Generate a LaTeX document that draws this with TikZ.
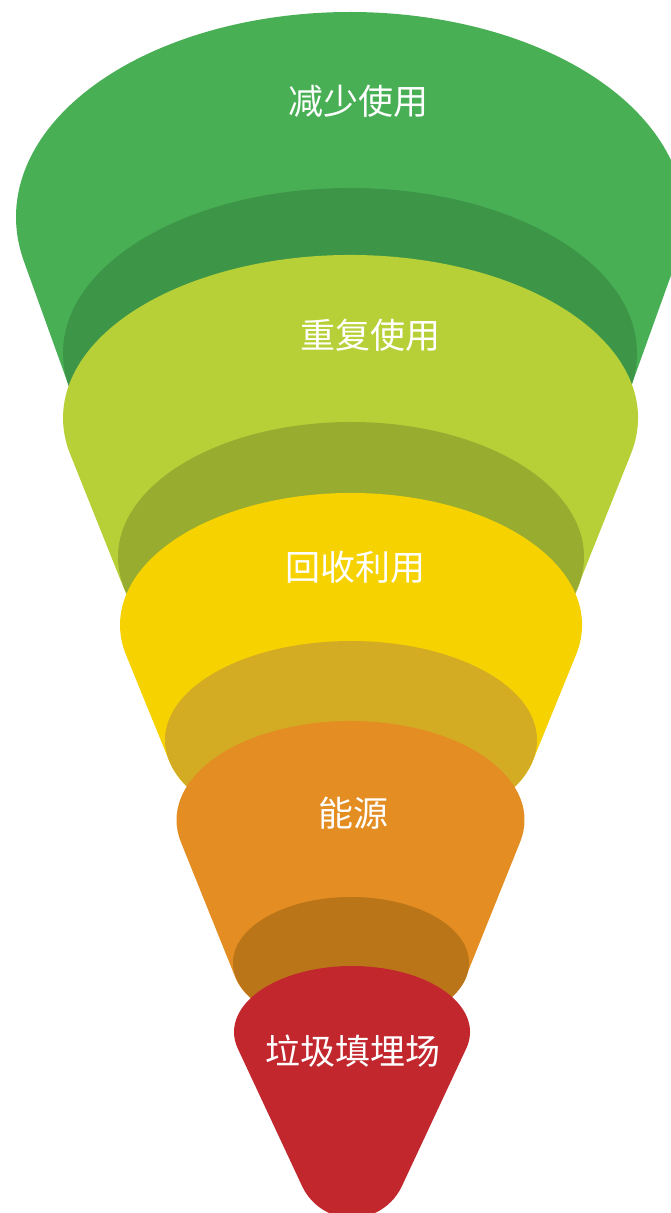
\documentclass[tikz,border=0pt]{standalone}
\usepackage{fontspec}
\newfontfamily\cjk{Noto Sans CJK SC}
\definecolor{gA}{HTML}{48AF55}
\definecolor{gAd}{HTML}{3D9648}
\definecolor{gB}{HTML}{B8D038}
\definecolor{gBd}{HTML}{98AC30}
\definecolor{gC}{HTML}{F6D300}
\definecolor{gCd}{HTML}{D4AC24}
\definecolor{gD}{HTML}{E38D22}
\definecolor{gDd}{HTML}{BB7519}
\definecolor{gE}{HTML}{C1272D}
\tikzset{lbl/.style={text=white,font=\cjk\fontsize{35}{40}\selectfont,inner sep=0pt}}
% #1 cx, #2 cy top (px, downwards), #3 a1, #4 b1, #5 cy bottom, #6 a2, #7 b2, #8 colour
\newcommand{\funnelseg}[8]{%
  \pgfmathsetmacro{\fsdy}{(#5-#2)/100}%
  \pgfmathsetmacro{\fsm}{0.4}%
  \pgfmathsetmacro{\fsm}{(sqrt((#3/100)^2+(\fsm*#4/100)^2)-sqrt((#6/100)^2+(\fsm*#7/100)^2))/\fsdy}%
  \pgfmathsetmacro{\fsm}{(sqrt((#3/100)^2+(\fsm*#4/100)^2)-sqrt((#6/100)^2+(\fsm*#7/100)^2))/\fsdy}%
  \pgfmathsetmacro{\fsm}{(sqrt((#3/100)^2+(\fsm*#4/100)^2)-sqrt((#6/100)^2+(\fsm*#7/100)^2))/\fsdy}%
  \pgfmathsetmacro{\fsm}{(sqrt((#3/100)^2+(\fsm*#4/100)^2)-sqrt((#6/100)^2+(\fsm*#7/100)^2))/\fsdy}%
  \pgfmathsetmacro{\fsm}{(sqrt((#3/100)^2+(\fsm*#4/100)^2)-sqrt((#6/100)^2+(\fsm*#7/100)^2))/\fsdy}%
  \pgfmathsetmacro{\fstA}{atan(\fsm*#4/#3)}%
  \pgfmathsetmacro{\fstB}{atan(\fsm*#7/#6)}%
  \pgfmathsetmacro{\fsyA}{1213-#2}%
  \pgfmathsetmacro{\fsyB}{1213-#5}%
  \fill[#8] ([shift={(-\fstA:#3pt and #4pt)}]#1,\fsyA)
    arc[start angle=-\fstA,end angle=180+\fstA,x radius=#3pt,y radius=#4pt]
    -- ([shift={(180+\fstB:#6pt and #7pt)}]#1,\fsyB)
    arc[start angle=180+\fstB,end angle=360-\fstB,x radius=#6pt,y radius=#7pt]
    -- cycle;%
}
\begin{document}
\begin{tikzpicture}[x=1pt,y=1pt]
\useasboundingbox (0,0) rectangle (671,1213);
\clip (0,0) rectangle (671,1213);
% segment 1
\funnelseg{350}{217}{334}{205}{353}{287}{165}{gA}
\fill[gAd] (350,{1213-353}) ellipse[x radius=287pt,y radius=165pt];
% segment 2
\funnelseg{350.5}{418}{287.5}{163}{557}{233}{135}{gB}
\fill[gBd] (351,{1213-557}) ellipse[x radius=233pt,y radius=135pt];
% segment 3
\funnelseg{351}{625}{231}{132}{740}{186}{99}{gC}
\fill[gCd] (351,{1213-740}) ellipse[x radius=186pt,y radius=99pt];
% segment 4
\funnelseg{350.5}{820}{174}{99}{963}{118}{66}{gD}
\fill[gDd] (351,{1213-963}) ellipse[x radius=118pt,y radius=66pt];
% segment 5
\funnelseg{352}{1032}{118}{66}{1163}{55}{55}{gE}
% labels
\node[lbl] (t1) at (358,{1213-101}) {减少使用};
\node[lbl] (t2) at (370,{1213-335}) {重复使用};
\node[lbl] (t3) at (355,{1213-567}) {回收利用};
\node[lbl] (t4) at (353,{1213-813}) {能源};
\node[lbl] (t5) at (353,{1213-1051}) {垃圾填埋场};
\end{tikzpicture}
\end{document}
